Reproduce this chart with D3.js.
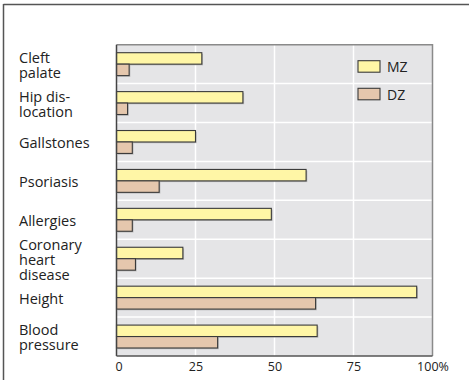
<!DOCTYPE html>
<html>
<head>
<meta charset="utf-8">
<script src="https://cdn.jsdelivr.net/npm/d3@7"></script>
<style>
  html, body { margin: 0; padding: 0; background: #fff; }
  svg { display: block; }
</style>
</head>
<body>
<svg id="chart" width="469" height="380"></svg>
<script>
// Conditions, each label split into its printed lines
const categories = [
  ["Cleft", "palate"],
  ["Hip dis-", "location"],
  ["Gallstones"],
  ["Psoriasis"],
  ["Allergies"],
  ["Coronary", "heart", "disease"],
  ["Height"],
  ["Blood", "pressure"]
];
// Concordance (%) in monozygotic and dizygotic twins
const mzValues = [27, 40, 25, 60, 49, 21, 95, 63.5];
const dzValues = [4, 3.5, 5, 13.5, 5, 6, 63, 32];
const seriesNames = ["MZ", "DZ"];
const seriesColors = ["#fff6a6", "#e5c7ad"];
const tickValues = [0, 25, 50, 75, 100];
const tickLabels = ["0", "25", "50", "75", "100%"];

const svg = d3.select("#chart");
const font = "'Open Sans', 'Noto Sans', sans-serif";

const plot = { left: 116.5, right: 432.5, top: 44.7, bottom: 356 };

const x = d3.scaleLinear().domain([0, 100]).range([plot.left, plot.right]);
const band = d3.scaleBand()
  .domain(d3.range(categories.length))
  .range([plot.top, plot.bottom])
  .paddingInner(0).paddingOuter(0);
const sub = d3.scaleBand().domain([0, 1]).range([8, band.bandwidth() - 8]);

// outer frame lines
svg.append("line").attr("x1", 3.5).attr("x2", 469).attr("y1", 4.5).attr("y2", 4.5)
  .attr("stroke", "#555").attr("stroke-width", 1.5);
svg.append("line").attr("x1", 3.5).attr("x2", 3.5).attr("y1", 4).attr("y2", 380)
  .attr("stroke", "#555").attr("stroke-width", 1.5);

// plot background
svg.append("rect")
  .attr("x", plot.left).attr("y", plot.top)
  .attr("width", plot.right - plot.left).attr("height", plot.bottom - plot.top)
  .attr("fill", "#e5e5e7");

// vertical grid
svg.append("g").selectAll("line")
  .data(tickValues.slice(1, -1))
  .join("line")
  .attr("x1", d => x(d)).attr("x2", d => x(d))
  .attr("y1", plot.top).attr("y2", plot.bottom)
  .attr("stroke", "#fff").attr("stroke-width", 1.5);

// horizontal separators between categories
svg.append("g").selectAll("line")
  .data(d3.range(1, categories.length))
  .join("line")
  .attr("x1", plot.left).attr("x2", plot.right)
  .attr("y1", d => band(d)).attr("y2", d => band(d))
  .attr("stroke", "#fff").attr("stroke-width", 1.5);

// plot border
svg.append("path")
  .attr("d", `M${plot.left},${plot.top}H${plot.right}V${plot.bottom}`)
  .attr("fill", "none").attr("stroke", "#8a8a8a").attr("stroke-width", 1.5);

// bars with a faint drop shadow
const rows = categories.map((c, i) => [mzValues[i], dzValues[i]]);
const bars = svg.append("g");
rows.forEach((vals, i) => {
  vals.forEach((v, s) => {
    const y0 = band(i) + sub(s);
    const h = sub.bandwidth();
    bars.append("rect")
      .attr("x", x(0) + 1.2).attr("y", y0 + 1.2)
      .attr("width", x(v) - x(0)).attr("height", h)
      .attr("fill", "#9a9a9a").attr("opacity", 0.6);
    bars.append("rect")
      .attr("x", x(0)).attr("y", y0)
      .attr("width", x(v) - x(0)).attr("height", h)
      .attr("fill", seriesColors[s])
      .attr("stroke", "#3a3a3a").attr("stroke-width", 1.1);
  });
});

// left axis line and bottom axis line
svg.append("line").attr("x1", plot.left).attr("x2", plot.left)
  .attr("y1", plot.top).attr("y2", plot.bottom)
  .attr("stroke", "#444").attr("stroke-width", 1.5);
svg.append("line").attr("x1", plot.left).attr("x2", plot.right)
  .attr("y1", plot.bottom).attr("y2", plot.bottom)
  .attr("stroke", "#555").attr("stroke-width", 1.5);

// x tick labels
const xAxis = d3.axisBottom(x)
  .tickValues(tickValues)
  .tickFormat((d, i) => tickLabels[i])
  .tickSize(0).tickPadding(0);
const gx = svg.append("g").attr("transform", `translate(0,${plot.bottom + 6.5})`).call(xAxis);
gx.select(".domain").remove();
gx.selectAll("text")
  .attr("font-family", font).attr("font-size", 12.5).attr("fill", "#222")
  .attr("dy", "0.71em");
gx.selectAll(".tick").filter(d => d === 0).select("text").attr("dx", 2);

// category labels, each block centred on its band
const fontSize = 14.5;
const lineH = 15;
const capH = fontSize * 0.72;
const labels = svg.append("g");
categories.forEach((lines, i) => {
  const cy = band(i) + band.bandwidth() / 2;
  const blockH = capH + (lines.length - 1) * lineH;
  const first = cy - blockH / 2 + capH + 1;
  const t = labels.append("text")
    .attr("x", 19).attr("font-family", font).attr("font-size", fontSize).attr("fill", "#222");
  lines.forEach((ln, k) => {
    t.append("tspan").attr("x", 19).attr("y", first + k * lineH).text(ln);
  });
});

// legend
const legend = svg.append("g");
seriesNames.forEach((name, s) => {
  const ly = 60.7 + s * 27.6;
  legend.append("rect")
    .attr("x", 358).attr("y", ly).attr("width", 22).attr("height", 11.5)
    .attr("fill", seriesColors[s]).attr("stroke", "#3a3a3a").attr("stroke-width", 1.1);
  legend.append("text")
    .attr("x", 387).attr("y", ly + 11.5)
    .attr("font-family", font).attr("font-size", 14).attr("fill", "#222")
    .text(name);
});
</script>
</body>
</html>
